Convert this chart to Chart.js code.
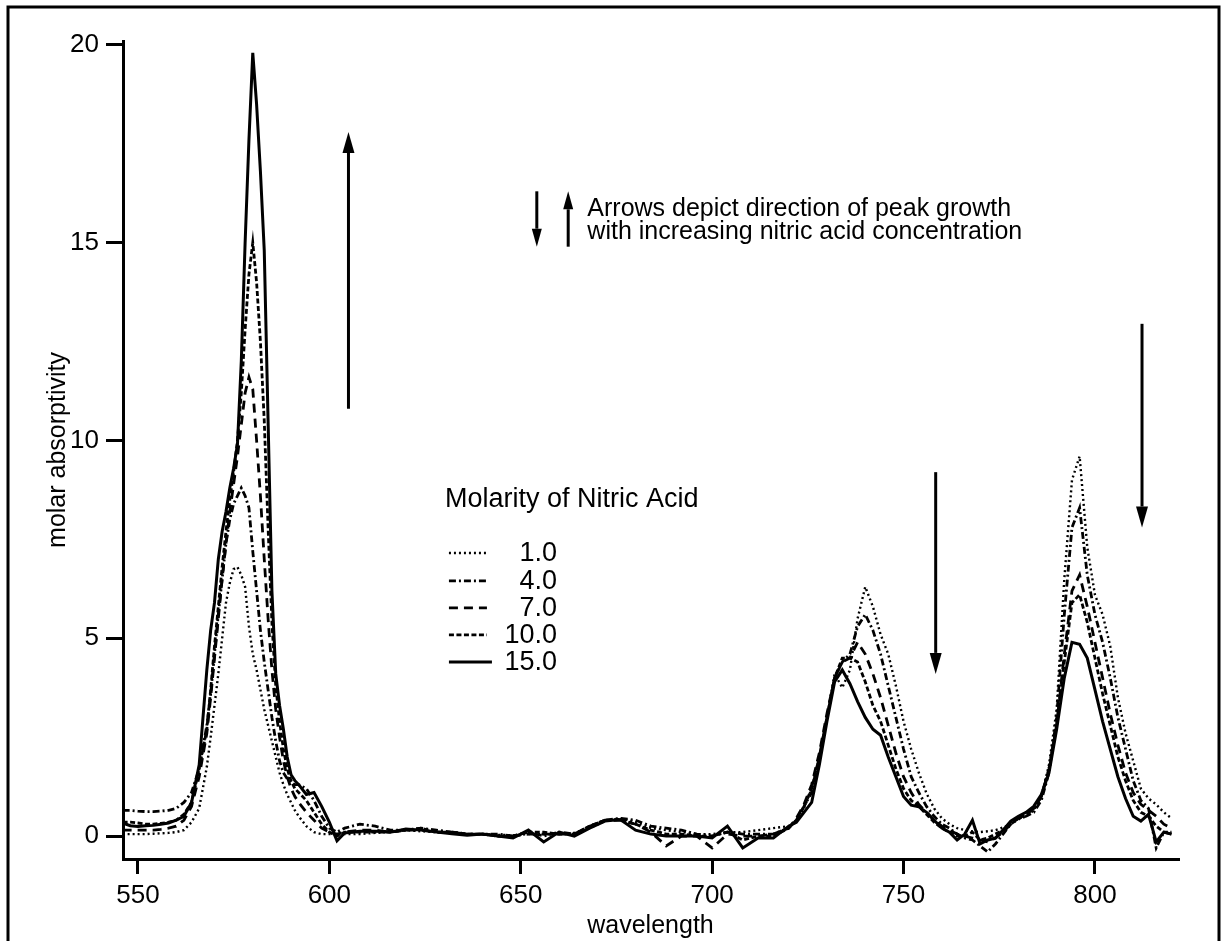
<!DOCTYPE html>
<html>
<head>
<meta charset="utf-8">
<title>Molar absorptivity vs wavelength</title>
<script src="https://cdn.jsdelivr.net/npm/chart.js@4.4.0/dist/chart.umd.min.js"></script>
<style>
    body { margin: 0; background: #fff; }
    #wrap { width: 1224px; height: 941px; }
</style>
</head>
<body>
<div id="wrap"><canvas id="myChart" width="1224" height="941"></canvas></div>
<script>
// x values (nm), shared by every series
const wavelength = [
    546, 548, 550, 552, 554, 556, 558, 560, 562, 564, 566, 568,
    569, 570, 571, 572, 573, 574, 575, 576, 577, 578, 579, 580, 581, 582, 583, 584, 585, 586, 587, 588, 589, 590, 591,
    592, 594, 596, 598, 600, 602, 604,
    608, 612, 616, 620, 624, 628, 632, 636, 640, 644, 648, 652, 656, 660, 664, 668, 672, 676, 680, 684, 688, 692, 696, 700, 704, 708, 712, 716, 720,
    722, 724, 726, 728, 730, 732, 734, 736, 738, 740, 742, 744, 746, 748, 750, 752, 754, 756, 758, 760,
    762, 764, 766, 768, 770, 772, 774, 776, 778, 780, 782, 784, 786, 788, 790, 792, 794, 796, 798, 800,
    802, 804, 806, 808, 810, 812, 814, 816, 818, 820
];

// molar absorptivity, one array per nitric acid molarity
const acid1 = [
    0.05, 0.05, 0.05, 0.05, 0.06, 0.07, 0.08, 0.10, 0.15, 0.35, 0.70, 1.75,
    2.5, 3.3, 4.1, 5.0, 5.9, 6.4, 6.75, 6.8, 6.6, 6.3, 5.3, 4.6, 4.2, 3.7, 3.2, 2.8, 2.4, 2.0, 1.6, 1.3, 1.05, 0.85, 0.65,
    0.5, 0.25, 0.1, 0.05, 0.05, 0.05, 0.05,
    0.05, 0.08, 0.10, 0.15, 0.12, 0.10, 0.08, 0.05, 0.05, 0.03, 0.02, 0.05, 0.05, 0.05, 0.08, 0.20, 0.38, 0.45, 0.35, 0.20, 0.15, 0.10, 0.05, 0.05, 0.10, 0.10, 0.15, 0.20, 0.25,
    0.4, 0.7, 1.2, 2.0, 3.0, 4.1, 3.75, 4.2, 5.5, 6.3, 5.8, 5.1, 4.6, 3.8, 2.9, 2.2, 1.6, 1.08, 0.7, 0.45,
    0.3, 0.2, 0.15, 0.12, 0.1, 0.12, 0.15, 0.22, 0.3, 0.42, 0.5, 0.65, 1.0, 1.8, 3.2, 6.5, 9.0, 9.6, 7.3, 6.1,
    5.6, 4.8, 3.5, 2.6, 1.9, 1.2, 0.95, 0.8, 0.6, 0.45
];
const acid4 = [
    0.65, 0.65, 0.63, 0.62, 0.62, 0.63, 0.65, 0.70, 0.85, 1.10, 1.70, 2.80,
    3.6, 4.6, 5.6, 6.5, 7.4, 8.0, 8.4, 8.6, 8.8, 8.6, 8.3, 7.2, 6.2, 5.2, 4.4, 3.7, 3.0, 2.4, 1.9, 1.6, 1.45, 1.35, 1.3,
    1.3, 1.2, 0.9, 0.5, 0.2, 0.1, 0.2,
    0.30, 0.25, 0.15, 0.15, 0.20, 0.15, 0.10, 0.05, 0.05, 0.05, 0.00, 0.10, 0.00, 0.10, 0.05, 0.25, 0.40, 0.45, 0.40, 0.25, 0.20, 0.15, 0.05, 0.00, 0.10, 0.05, 0.05, 0.05, 0.20,
    0.4, 0.75, 1.1, 2.0, 3.0, 4.0, 4.4, 4.6, 5.3, 5.6, 5.2, 4.6, 3.8, 3.0, 2.2, 1.5, 1.1, 0.75, 0.5, 0.3,
    0.2, 0.05, -0.05, -0.1, -0.25, -0.4, -0.2, 0.05, 0.3, 0.45, 0.5, 0.6, 0.9, 1.6, 3.0, 5.6, 7.8, 8.3, 6.6, 5.6,
    4.9, 4.0, 3.0, 2.2, 1.4, 0.9, 0.7, -0.3, 0.1, 0.05
];
const acid7 = [
    0.15, 0.15, 0.15, 0.15, 0.15, 0.17, 0.20, 0.25, 0.40, 0.75, 1.50, 2.60,
    3.5, 4.5, 5.5, 6.5, 7.4, 8.2, 8.9, 9.6, 10.4, 11.2, 11.6, 11.3, 10.0, 8.6, 7.0, 5.5, 4.2, 3.2, 2.5, 1.9, 1.5, 1.2, 1.0,
    0.85, 0.6, 0.4, 0.2, 0.1, 0.05, 0.1,
    0.15, 0.15, 0.10, 0.15, 0.15, 0.10, 0.10, 0.05, 0.05, 0.00, 0.00, 0.05, 0.05, 0.05, 0.05, 0.25, 0.40, 0.40, 0.30, 0.10, -0.25, 0.00, 0.00, -0.30, 0.05, 0.00, 0.00, 0.05, 0.20,
    0.45, 0.8, 1.3, 2.1, 3.1, 4.0, 4.4, 4.5, 4.9, 4.6, 4.1, 3.5, 2.8, 2.1, 1.5, 1.1, 0.8, 0.6, 0.4, 0.25,
    0.15, 0.05, 0.0, -0.05, -0.1, -0.15, -0.05, 0.1, 0.3, 0.45, 0.55, 0.7, 1.0, 1.7, 2.8, 4.6, 6.2, 6.6, 5.8, 4.9,
    4.0, 3.1, 2.3, 1.6, 1.1, 0.8, 0.65, 0.5, 0.3, 0.2
];
const acid10 = [
    0.35, 0.35, 0.33, 0.30, 0.30, 0.32, 0.35, 0.40, 0.55, 0.85, 1.70, 2.70,
    3.7, 4.8, 5.8, 6.8, 7.7, 8.5, 9.2, 10.0, 11.2, 12.8, 14.2, 15.0, 14.0, 12.5, 10.5, 7.8, 5.4, 3.8, 2.9, 2.2, 1.7, 1.4, 1.2,
    1.1, 0.9, 0.6, 0.3, 0.1, 0.0, 0.1,
    0.10, 0.10, 0.10, 0.15, 0.20, 0.10, 0.10, 0.05, 0.05, 0.00, 0.00, 0.10, 0.10, 0.05, 0.05, 0.25, 0.40, 0.42, 0.30, 0.15, 0.05, 0.05, 0.00, 0.00, 0.10, -0.10, 0.00, 0.00, 0.20,
    0.4, 0.75, 1.2, 2.0, 3.0, 4.0, 4.5, 4.5, 4.4, 3.9, 3.3, 2.9, 2.3, 1.7, 1.2, 0.9, 0.75, 0.55, 0.35, 0.2,
    0.1, 0.0, 0.0, 0.1, -0.1, -0.05, 0.05, 0.15, 0.35, 0.45, 0.55, 0.7, 1.0, 1.7, 2.8, 4.4, 5.9, 6.1, 5.4, 4.5,
    3.6, 2.8, 2.0, 1.4, 0.9, 0.6, 0.5, 0.25, 0.1, 0.1
];
const acid15 = [
    0.33, 0.26, 0.24, 0.26, 0.27, 0.30, 0.33, 0.40, 0.50, 0.85, 1.80, 4.20,
    5.2, 5.9, 7.0, 7.7, 8.2, 8.8, 9.3, 9.9, 12.0, 15.0, 17.6, 19.8, 18.5, 16.8, 14.8, 10.5, 6.2, 4.1, 3.3, 2.7, 2.0, 1.55, 1.4,
    1.3, 1.05, 1.1, 0.75, 0.35, -0.12, 0.08,
    0.12, 0.12, 0.10, 0.18, 0.15, 0.10, 0.06, 0.02, 0.05, 0.00, -0.05, 0.15, -0.15, 0.10, 0.00, 0.20, 0.38, 0.42, 0.15, 0.05, 0.00, 0.00, 0.00, -0.05, 0.25, -0.30, -0.05, -0.05, 0.25,
    0.35, 0.6, 0.85, 1.8, 2.9, 3.9, 4.2, 3.85, 3.4, 3.0, 2.7, 2.55, 2.0, 1.5, 1.0, 0.78, 0.74, 0.6, 0.4, 0.2,
    0.1, -0.1, 0.05, 0.4, -0.2, -0.1, -0.05, 0.15, 0.38, 0.5, 0.6, 0.75, 1.05, 1.6, 2.7, 4.0, 4.9, 4.85, 4.5, 3.7,
    2.9, 2.2, 1.5, 0.95, 0.5, 0.38, 0.55, -0.15, 0.1, 0.05
];

const molarity = ['1.0', '4.0', '7.0', '10.0', '15.0'];
const xTicks = [550, 600, 650, 700, 750, 800];
const yTicks = [0, 5, 10, 15, 20];

const fontFamily = '"Liberation Sans", Arial, Helvetica, sans-serif';

// line style per series, same order as molarity
const lineStyles = [
    { values: acid1,  dash: [2, 3],       width: 2.4 },
    { values: acid4,  dash: [7, 3, 2, 3], width: 2.8 },
    { values: acid7,  dash: [9, 6],       width: 2.8 },
    { values: acid10, dash: [5, 2.5],     width: 2.8 },
    { values: acid15, dash: [],           width: 3 }
];

function toPoints(values){
    return wavelength.map((w, i) => ({ x: w, y: values[i] }));
}

// arrows in data units: x, tail value, tip value, small head or not
const arrows = [
    { x: 605.0, from: 10.8, to: 17.8, small: false },
    { x: 758.4, from: 9.2,  to: 4.1,  small: false },
    { x: 812.3, from: 12.95, to: 7.8, small: false },
    { x: 654.2, from: 16.3, to: 14.9, small: true },
    { x: 662.4, from: 14.9, to: 16.3, small: true }
];
const noteLines = ['Arrows depict direction of peak growth', 'with increasing nitric acid concentration'];

function drawArrow(ctx, x, yTail, yTip, headW, headL, lw){
    const dir = yTip > yTail ? 1 : -1;
    ctx.lineWidth = lw;
    ctx.beginPath();
    ctx.moveTo(x, yTail);
    ctx.lineTo(x, yTip - dir * headL);
    ctx.stroke();
    ctx.beginPath();
    ctx.moveTo(x, yTip);
    ctx.lineTo(x - headW / 2, yTip - dir * headL);
    ctx.lineTo(x + headW / 2, yTip - dir * headL);
    ctx.closePath();
    ctx.fill();
}

const extrasPlugin = {
    id: 'extras',
    afterDraw(chart){
        const ctx = chart.ctx;
        const xs = chart.scales.x;
        const ys = chart.scales.y;
        ctx.save();
        ctx.strokeStyle = '#000';
        ctx.fillStyle = '#000';
        ctx.setLineDash([]);

        // frame round the figure
        ctx.lineWidth = 3;
        ctx.strokeRect(8, 7, 1211, 960);

        // arrows
        arrows.forEach(a => {
            const px = xs.getPixelForValue(a.x);
            if (a.small) {
                drawArrow(ctx, px, ys.getPixelForValue(a.from), ys.getPixelForValue(a.to), 10, 18, 3);
            } else {
                drawArrow(ctx, px, ys.getPixelForValue(a.from), ys.getPixelForValue(a.to), 12, 21, 3);
            }
        });

        // note text
        ctx.font = '25px ' + fontFamily;
        ctx.textAlign = 'left';
        ctx.textBaseline = 'alphabetic';
        const noteX = xs.getPixelForValue(667.4);
        const noteY = ys.getPixelForValue(15.68);
        noteLines.forEach((t, i) => ctx.fillText(t, noteX, noteY + i * 23));

        // legend
        ctx.font = '27px ' + fontFamily;
        const lx = xs.getPixelForValue(630.2);
        const ly = ys.getPixelForValue(8.32);
        ctx.fillText('Molarity of Nitric Acid', lx, ly);
        const rowBase = [54, 82, 109, 136, 163];
        molarity.forEach((m, i) => {
            const base = ly + rowBase[i];
            ctx.textAlign = 'right';
            ctx.fillText(m, lx + 112, base);
            ctx.beginPath();
            ctx.lineWidth = lineStyles[i].width;
            ctx.setLineDash(lineStyles[i].dash);
            ctx.moveTo(lx + 4, base - 8);
            ctx.lineTo(lx + (i === 4 ? 47 : 42), base - 8);
            ctx.stroke();
            ctx.setLineDash([]);
        });
        ctx.restore();
    }
};

const ctx = document.getElementById('myChart');

new Chart(ctx, {
    type: 'scatter',
    data: {
        datasets: lineStyles.map((s, i) => ({
            label: molarity[i],
            data: toPoints(s.values),
            showLine: true,
            borderColor: '#000',
            backgroundColor: '#000',
            borderWidth: s.width,
            borderDash: s.dash,
            pointRadius: 0,
            tension: 0,
            fill: false
        }))
    },
    options: {
        responsive: false,
        animation: false,
        devicePixelRatio: 1,
        layout: { padding: { top: 41, right: 46, left: 0, bottom: 0 } },
        plugins: {
            legend: { display: false },
            tooltip: { enabled: false }
        },
        scales: {
            x: {
                type: 'linear',
                min: 546.1,
                max: 821.7,
                afterBuildTicks: scale => { scale.ticks = xTicks.map(v => ({ value: v })); },
                afterFit: scale => { scale.height = 82; },
                grid: { drawOnChartArea: false, drawTicks: true, tickLength: 15, color: '#000', lineWidth: 3 },
                border: { display: true, color: '#000', width: 3 },
                ticks: { color: '#000', padding: 6, maxRotation: 0, font: { size: 26, family: fontFamily } },
                title: { display: true, text: 'wavelength', color: '#000', padding: { top: 0, bottom: 0 }, font: { size: 25, family: fontFamily } }
            },
            y: {
                type: 'linear',
                min: -0.58,
                max: 20.1,
                afterBuildTicks: scale => { scale.ticks = yTicks.map(v => ({ value: v })); },
                afterFit: scale => { scale.width = 123; },
                grid: { drawOnChartArea: false, drawTicks: true, tickLength: 17, color: '#000', lineWidth: 3 },
                border: { display: true, color: '#000', width: 3 },
                ticks: { color: '#000', padding: 7, font: { size: 26, family: fontFamily } },
                title: { display: true, text: 'molar absorptivity', color: '#000', padding: { top: 43, bottom: 0 }, font: { size: 25, family: fontFamily } }
            }
        }
    },
    plugins: [extrasPlugin]
});
</script>
</body>
</html>
